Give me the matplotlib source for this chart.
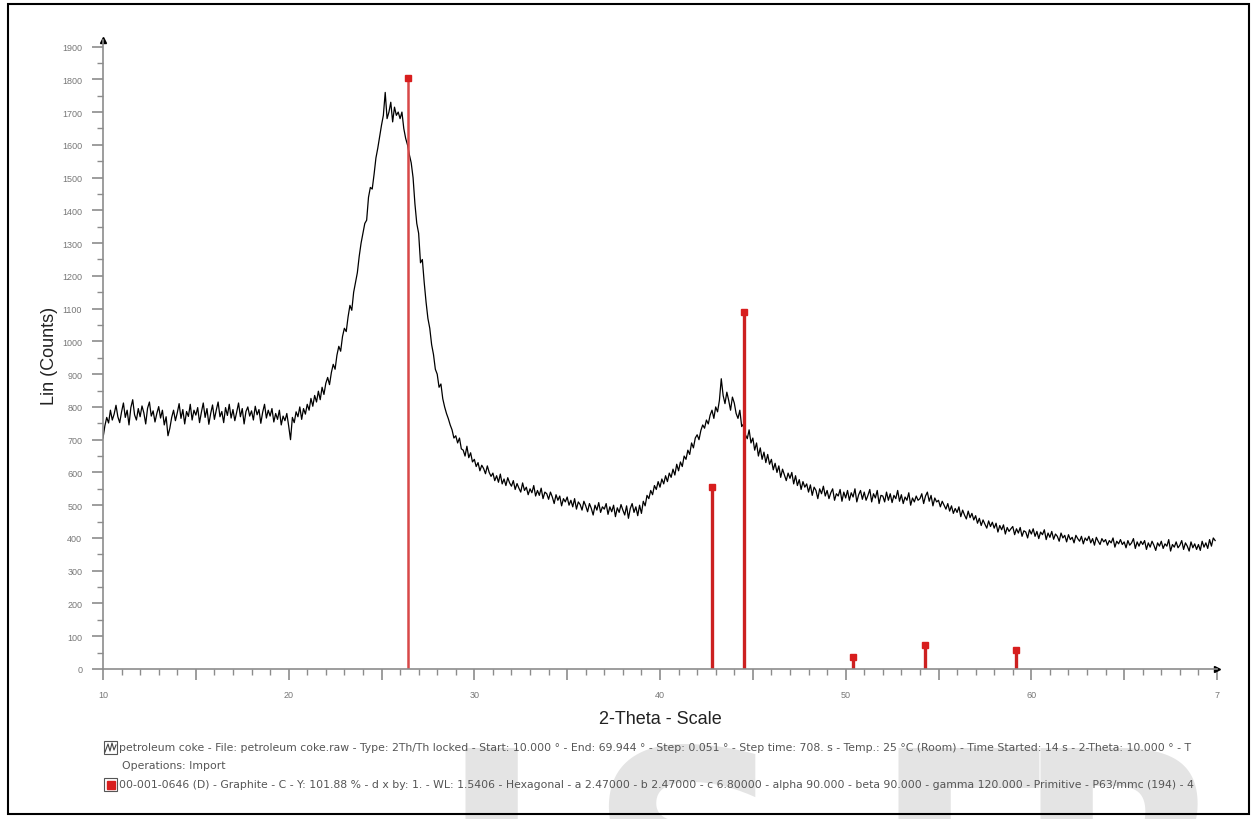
import numpy as np
import matplotlib
matplotlib.use("Agg")
import matplotlib.pyplot as plt
from matplotlib.patches import Rectangle
from matplotlib.ticker import MultipleLocator, FixedLocator

plt.rcParams['font.family'] = ['Liberation Sans', 'DejaVu Sans']

# measured pattern, 2-theta from 10.0 in 0.1 deg steps
two_theta_start = 10.0
two_theta_step = 0.1
counts = [
    705, 742, 768, 751, 790, 760, 778, 805, 770, 752,
    785, 812, 768, 790, 745, 798, 822, 776, 760, 795,
    770, 803, 782, 748, 796, 815, 772, 788, 754, 780,
    801, 766, 790, 745, 770, 712, 735, 768, 790, 758,
    782, 810, 765, 792, 748, 786, 771, 808, 760, 790,
    775, 798, 752, 784, 812, 768, 795, 747, 780, 806,
    762, 790, 815, 770, 786, 752, 798, 774, 808, 766,
    792, 758, 784, 812, 770, 795, 748, 786, 800, 772,
    788, 760, 802, 776, 792, 750, 784, 808, 766, 790,
    772, 795, 754, 780, 762, 790, 745, 772, 758, 780,
    742, 700, 768, 752, 785, 770, 800, 762, 795, 778,
    808, 790, 826, 802, 835, 815, 848, 822, 860, 838,
    872, 890, 868, 905, 930, 915, 958, 985, 970, 1015,
    1040, 1030, 1075, 1110, 1095, 1150, 1180, 1210, 1260, 1300,
    1330, 1360, 1370, 1440, 1470, 1465, 1510, 1560, 1590, 1625,
    1660, 1690, 1760, 1680, 1700, 1730, 1670, 1715, 1690, 1700,
    1680, 1700, 1650, 1620, 1600, 1570, 1545, 1500, 1420, 1360,
    1330, 1240, 1250, 1180, 1120, 1070, 1040, 990, 960, 915,
    900, 860, 870, 825, 800, 780, 764, 745, 730, 705,
    712, 690, 705, 672, 668, 650, 680, 645, 660, 632,
    640, 618, 630, 605, 622, 612, 596, 620, 600, 588,
    598, 575, 590, 570, 595, 565, 580, 560, 584, 568,
    558, 575, 548, 566, 552, 540, 568, 545, 555, 532,
    550, 538, 560, 528, 545, 530, 552, 520, 540, 535,
    518, 540, 525, 505, 532, 515, 528, 498, 520, 510,
    525, 500, 515, 495, 520, 488, 510, 502, 485, 512,
    498, 480, 505, 490, 470, 500, 485, 508, 478, 495,
    488, 505, 472, 495, 480, 500, 465, 492, 478, 502,
    485, 470, 498, 460, 490, 505, 478, 495, 468, 500,
    475, 512, 498, 530, 520, 545, 532, 560, 548, 572,
    555, 580, 565, 590, 572, 598, 585, 610, 592, 625,
    605, 632, 618, 650, 640, 668, 655, 690, 675, 705,
    715, 700, 728, 745, 735, 760, 748, 775, 790, 765,
    800, 785, 820, 886, 835, 810, 845, 820, 790, 830,
    812, 780, 765, 790, 740, 748, 715, 703, 730, 690,
    705, 668, 690, 650, 675, 640, 662, 630, 655, 625,
    640, 608, 628, 600, 620, 585, 610, 592, 575, 598,
    582, 600, 565, 590, 560, 578, 548, 572, 555, 565,
    540, 562, 530, 555, 545, 520, 550, 535, 558, 528,
    545, 520, 538, 550, 515, 535, 528, 548, 512, 540,
    522, 545, 515, 538, 525, 550, 510, 532, 545, 518,
    540, 515, 530, 548, 510, 535, 522, 545, 505, 530,
    528, 510, 540, 515, 535, 508, 530, 520, 545, 512,
    532, 505, 525, 515, 538, 500, 522, 510, 528, 515,
    520, 535, 505, 528, 540, 512, 530, 498, 522, 510,
    515, 495, 512, 500, 488, 505, 482, 498, 475, 490,
    478, 495, 465, 485, 470, 458, 482, 462, 475, 455,
    468, 445, 460, 438, 455, 442, 430, 452, 435, 448,
    430, 445, 418, 438, 425, 440, 412, 432, 420, 428,
    435, 410, 428, 415, 432, 405, 422, 418, 400, 425,
    412, 428, 405, 420, 398, 418, 410, 425, 395, 415,
    402, 420, 396, 412, 405, 390, 415, 400, 408, 388,
    410, 395, 402, 385, 408, 398, 390, 405, 382, 400,
    392, 405, 385, 398, 378, 402, 390, 380, 398, 388,
    395, 378, 392, 385, 400, 372, 390, 382, 395, 380,
    388, 370, 392, 378, 385, 398, 368, 388, 375, 390,
    380, 392, 365, 385, 372, 390, 378, 362, 385, 375,
    390, 368, 382, 375, 395, 360, 380, 372, 388, 370,
    378, 392, 365, 385, 375, 360, 388, 370, 382, 365,
    380, 362, 390, 372, 385, 368, 395, 375, 400, 392,
]

# graphite reference sticks (00-001-0646)
stick_pos = [26.45, 42.8, 44.55, 50.4, 54.25, 59.2]
stick_int = [1805, 555, 1090, 38, 72, 58]

x_tick_labels = ['10', '20', '30', '40', '50', '60', '7']

legend_1 = ("petroleum coke - File: petroleum coke.raw - Type: 2Th/Th locked - Start: 10.000 \u00b0 - End: 69.944 \u00b0"
            " - Step: 0.051 \u00b0 - Step time: 708. s - Temp.: 25 \u00b0C (Room) - Time Started: 14 s - 2-Theta: 10.000 \u00b0 - T")
legend_2 = "Operations: Import"
legend_3 = ("00-001-0646 (D) - Graphite - C - Y: 101.88 % - d x by: 1. - WL: 1.5406 - Hexagonal - a 2.47000 - b 2.47000"
            " - c 6.80000 - alpha 90.000 - beta 90.000 - gamma 120.000 - Primitive - P63/mmc (194) - 4")

W, H = 1255, 820
fig = plt.figure(figsize=(W / 100, H / 100), dpi=100)

# faint watermark letters peeking in at the bottom
for letter, left in [('J', 440), ('S', 588), ('E', 872), ('R', 1015)]:
    fig.text(left / W, -0.16, letter, fontsize=200, fontweight='bold', family='DejaVu Sans',
             color='#e4e4e4', ha='left', va='baseline', zorder=-5)

# outer frame
fig.patches.append(Rectangle((8 / W, 5 / H), 1 - 14 / W, 1 - 10 / H, transform=fig.transFigure,
                             fill=False, edgecolor='black', linewidth=1.5))

ax = fig.add_axes([103 / W, 150 / H, (1217 - 103) / W, (670 - 41) / H])
ax.patch.set_alpha(0)

two_theta = two_theta_start + two_theta_step * np.arange(len(counts))
ax.plot(two_theta, counts, color='black', linewidth=0.9)

ax.vlines(stick_pos[:1], 0, stick_int[:1], colors='#d84848', linewidth=1.8)
ax.vlines(stick_pos[1:], 0, stick_int[1:], colors='#cc2020', linewidth=2.4)
ax.plot(stick_pos, stick_int, 's', color='#d81e1e', markersize=4)

ax.set_xlim(10, 70)
ax.set_ylim(0, 1920)

for s in ['top', 'right']:
    ax.spines[s].set_visible(False)
for s in ['left', 'bottom']:
    ax.spines[s].set_color('#8c8c8c')
    ax.spines[s].set_linewidth(1.2)
ax.plot(1, 0, '>', color='black', markersize=5, transform=ax.transAxes, clip_on=False)
ax.plot(0, 1, '^', color='black', markersize=4, transform=ax.transAxes, clip_on=False)

ax.yaxis.set_major_locator(MultipleLocator(100))
ax.yaxis.set_minor_locator(MultipleLocator(50))
ax.set_yticks(np.arange(0, 2000, 100))
ax.xaxis.set_major_locator(FixedLocator(np.arange(10, 71, 5)))
ax.xaxis.set_minor_locator(MultipleLocator(1))
ax.set_xticklabels(['' if v % 10 else x_tick_labels[(v - 10) // 10] for v in range(10, 71, 5)])
ax.tick_params(axis='both', which='major', colors='#8c8c8c', labelcolor='#777777',
               labelsize=6.5, length=8, width=1.2)
ax.tick_params(axis='y', which='major', pad=7)
ax.tick_params(axis='x', which='major', pad=7)
ax.tick_params(axis='both', which='minor', colors='#8c8c8c', length=4, width=1)

ax.set_ylabel('Lin (Counts)', fontsize=13, color='#222222', labelpad=3)
ax.set_xlabel('2-Theta - Scale', fontsize=13, color='#222222', labelpad=8)

# legend lines under the plot
fs = 7.85
fig.text(119 / W, 1 - 748 / H, legend_1, fontsize=fs, family='DejaVu Sans', color='#555555', va='center')
fig.text(122 / W, 1 - 766 / H, legend_2, fontsize=fs, family='DejaVu Sans', color='#555555', va='center')
fig.text(119 / W, 1 - 785 / H, legend_3, fontsize=fs, family='DejaVu Sans', color='#555555', va='center')

fig.patches.append(Rectangle((104 / W, 1 - 755 / H), 13 / W, 13 / H, transform=fig.transFigure,
                             fill=False, edgecolor='#555555', linewidth=0.8))
fig.lines.append(plt.Line2D(np.array([105, 108, 110, 112, 114, 116]) / W,
                            1 - np.array([753, 745, 752, 744, 751, 746]) / H,
                            transform=fig.transFigure, color='#444444', linewidth=0.8))
fig.patches.append(Rectangle((104 / W, 1 - 792 / H), 13 / W, 13 / H, transform=fig.transFigure,
                             fill=False, edgecolor='#555555', linewidth=0.8))
fig.patches.append(Rectangle((106.5 / W, 1 - 789.5 / H), 8 / W, 8 / H, transform=fig.transFigure,
                             color='#d81e1e'))

fig.savefig('out.png', dpi=100)
